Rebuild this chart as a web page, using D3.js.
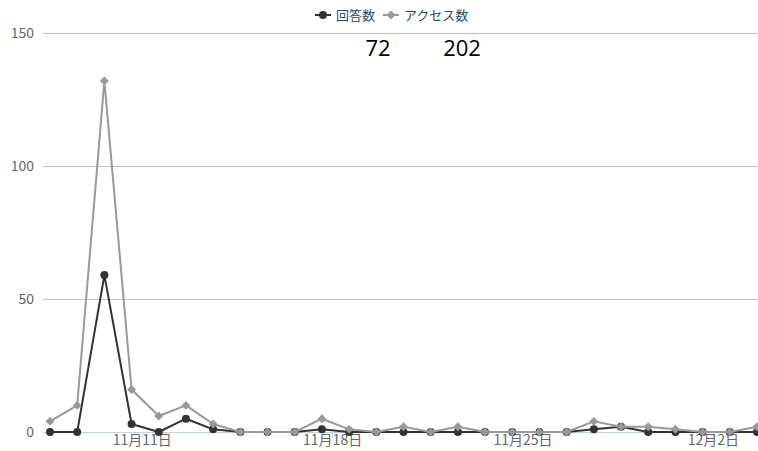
<!DOCTYPE html>
<html>
<head>
<meta charset="utf-8">
<script src="https://cdn.jsdelivr.net/npm/d3@7"></script>
<style>
  body { margin: 0; background: #fff; }
  svg { display: block; font-family: "Noto Sans CJK JP", "Open Sans", sans-serif; }
</style>
</head>
<body>
<div id="chart"></div>
<script>
// daily dates (JST)
var days = [
  "2019-11-08", "2019-11-09", "2019-11-10", "2019-11-11", "2019-11-12", "2019-11-13", "2019-11-14",
  "2019-11-15", "2019-11-16", "2019-11-17", "2019-11-18", "2019-11-19", "2019-11-20", "2019-11-21",
  "2019-11-22", "2019-11-23", "2019-11-24", "2019-11-25", "2019-11-26", "2019-11-27", "2019-11-28",
  "2019-11-29", "2019-11-30", "2019-12-01", "2019-12-02", "2019-12-03", "2019-12-04"
];
var answers = [0, 0, 59, 3, 0, 5, 1, 0, 0, 0, 1, 0, 0, 0, 0, 0, 0, 0, 0, 0, 1, 2, 0, 0, 0, 0, 0];
var access = [4, 10, 132, 16, 6, 10, 3, 0, 0, 0, 5, 1, 0, 2, 0, 2, 0, 0, 0, 0, 4, 2, 2, 1, 0, 0, 2];
var seriesNames = ["回答数", "アクセス数"];
var yTicks = [0, 50, 100, 150];

var width = 758, height = 451;
var svg = d3.select("#chart").append("svg")
  .attr("width", width)
  .attr("height", height);

var dates = days.map(function(d) { return new Date(d + "T00:00:00+09:00"); });

var xScale = d3.scaleUtc()
  .domain([dates[0], dates[dates.length - 1]])
  .range([50, 757]);
var yScale = d3.scaleLinear()
  .domain([0, 150])
  .range([432, 33]);

// square diamond, like the chart's marker (size = area)
var squareDiamond = {
  draw: function(context, size) {
    var r = Math.sqrt(size / 2);
    context.moveTo(0, -r);
    context.lineTo(r, 0);
    context.lineTo(0, r);
    context.lineTo(-r, 0);
    context.closePath();
  }
};

// grid lines
svg.append("g")
  .selectAll("line")
  .data(yTicks.filter(function(t) { return t > 0; }))
  .enter().append("line")
  .attr("x1", 43).attr("x2", width)
  .attr("y1", function(d) { return yScale(d) + 0.5; })
  .attr("y2", function(d) { return yScale(d) + 0.5; })
  .attr("stroke", "#c0c0c0")
  .attr("stroke-width", 1);

// y labels
svg.append("g")
  .selectAll("text")
  .data(yTicks)
  .enter().append("text")
  .attr("x", 34)
  .attr("y", function(d) { return yScale(d) + 5; })
  .attr("text-anchor", "end")
  .attr("fill", "#666")
  .style("font-size", "14px")
  .text(function(d) { return d; });

// x axis
var xAxis = d3.axisBottom(xScale)
  .ticks(d3.utcMonday)
  .tickFormat(d3.utcFormat("%-m月%-d日"))
  .tickSize(5)
  .tickSizeOuter(0);
var gx = svg.append("g")
  .attr("transform", "translate(0," + (yScale(0) + 0.5) + ")")
  .call(xAxis);
gx.select(".domain").remove();
gx.insert("line", ":first-child")
  .attr("x1", 43).attr("x2", width)
  .attr("stroke", "#c0d0e0");
gx.selectAll(".tick line").attr("stroke", "#c0d0e0");
gx.selectAll(".tick text")
  .attr("fill", "#666")
  .attr("y", 3)
  .attr("dy", "0.71em")
  .style("font-size", "14px")
  .style("font-family", "\"Noto Sans CJK JP\", sans-serif");

var series = [
  { name: seriesNames[0], values: answers, color: "#333333", symbol: d3.symbolCircle, size: 50 },
  { name: seriesNames[1], values: access, color: "#999999", symbol: squareDiamond, size: 40 }
];

var line = d3.line()
  .x(function(d, i) { return xScale(dates[i]); })
  .y(function(d) { return yScale(d); });

series.forEach(function(s) {
  var g = svg.append("g");
  g.append("path")
    .datum(s.values)
    .attr("d", line)
    .attr("fill", "none")
    .attr("stroke", s.color)
    .attr("stroke-width", 2)
    .attr("stroke-linejoin", "round");
  g.selectAll(".pt")
    .data(s.values)
    .enter().append("path")
    .attr("class", "pt")
    .attr("transform", function(d, i) {
      return "translate(" + xScale(dates[i]) + "," + yScale(d) + ")";
    })
    .attr("d", d3.symbol().type(s.symbol).size(s.size))
    .attr("fill", s.color);
});

// legend
var legend = svg.append("g");
var lx = 315;
series.forEach(function(s, i) {
  var item = legend.append("g").attr("transform", "translate(" + lx + ",15)");
  item.append("line")
    .attr("x1", 0).attr("x2", 16)
    .attr("stroke", s.color).attr("stroke-width", 2);
  item.append("path")
    .attr("transform", "translate(8,0)")
    .attr("d", d3.symbol().type(s.symbol).size(s.size))
    .attr("fill", s.color);
  var t = item.append("text")
    .attr("x", 21)
    .attr("y", 5)
    .attr("fill", "#274b6d")
    .style("font-size", "13px")
    .text(s.name);
  lx += 21 + t.node().getComputedTextLength() + 8;
});

// totals
var totals = [d3.sum(answers), d3.sum(access)];
svg.append("g")
  .selectAll("text")
  .data(totals)
  .enter().append("text")
  .attr("x", function(d, i) { return i === 0 ? 378 : 462; })
  .attr("y", 56)
  .attr("text-anchor", "middle")
  .attr("fill", "#000")
  .style("font-family", "\"Open Sans\", sans-serif")
  .style("font-size", "22px")
  .text(function(d) { return d; });
</script>
</body>
</html>
